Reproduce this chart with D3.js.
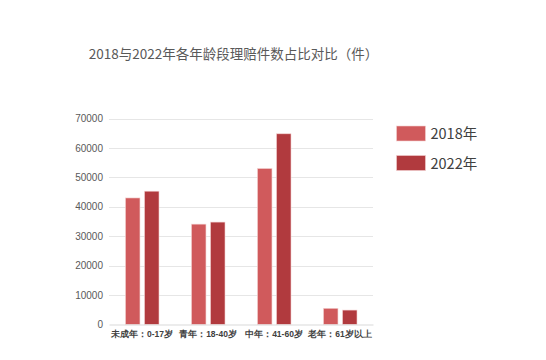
<!DOCTYPE html>
<html><head><meta charset="utf-8">
<script src="https://cdn.jsdelivr.net/npm/d3@7"></script>
<style>body{margin:0;background:#fff;} svg{display:block;font-family:"Noto Sans CJK SC","Liberation Sans",sans-serif;}</style>
</head><body><div id="chart"></div>
<script>
const categories = ["未成年：0-17岁", "青年：18-40岁", "中年：41-60岁", "老年：61岁以上"];
const seriesNames = ["2018年", "2022年"];
const values2018 = [43000, 34100, 53000, 5500];
const values2022 = [45300, 34800, 64800, 4900];
const yTicks = [0, 10000, 20000, 30000, 40000, 50000, 60000, 70000];
const colors = ["#d05a5c", "#b13a3e"];

const W = 546, H = 360;
const svg = d3.select("#chart").append("svg").attr("width", W).attr("height", H);
svg.append("rect").attr("width", W).attr("height", H).attr("fill", "#fff");

svg.append("text").attr("x", 233.5).attr("y", 59).attr("text-anchor", "middle")
  .attr("font-size", 13.5).attr("fill", "#595959").text("2018与2022年各年龄段理赔件数占比对比（件）");

const m = {l: 109, r: 373, t: 118.5, b: 324.5};
const x0 = d3.scaleBand().domain(categories).range([m.l, m.r]).paddingInner(0).paddingOuter(0);
const x1 = d3.scaleBand().domain(seriesNames).range([16.5, 50]).paddingInner(0.24);
const y = d3.scaleLinear().domain([0, 70000]).range([m.b, m.t]);

const grid = svg.append("g");
grid.selectAll("line").data(yTicks.filter(d => d > 0)).join("line")
  .attr("x1", m.l).attr("x2", m.r).attr("y1", d => Math.round(y(d)) + 0.5).attr("y2", d => Math.round(y(d)) + 0.5)
  .attr("stroke", "#e6e6e6").attr("stroke-width", 1);

const yAxis = d3.axisLeft(y).tickValues(yTicks).tickSize(0).tickPadding(6).tickFormat(d3.format("d"));
const ya = svg.append("g").attr("transform", `translate(${m.l},0)`).call(yAxis);
ya.select(".domain").remove();
ya.selectAll("text").attr("font-size", 10).attr("fill", "#595959").attr("font-family", "Liberation Sans, sans-serif");

const data = categories.map((c, i) => ({c, vals: [values2018[i], values2022[i]]}));
const groups = svg.append("g").selectAll("g").data(data).join("g")
  .attr("transform", d => `translate(${x0(d.c)},0)`);
groups.selectAll("rect").data(d => d.vals.map((v, j) => ({v, j}))).join("rect")
  .attr("x", d => x1(seriesNames[d.j])).attr("width", x1.bandwidth())
  .attr("y", d => y(d.v)).attr("height", d => y(0) - y(d.v))
  .attr("fill", d => colors[d.j]).attr("stroke", "#f3d0d0").attr("stroke-width", 0.6);

const xAxis = d3.axisBottom(x0).tickSize(0).tickPadding(6);
const xa = svg.append("g").attr("transform", `translate(0,${m.b})`).call(xAxis);
xa.select(".domain").attr("stroke", "#d9d9d9");
xa.selectAll("text").attr("font-size", 8.5).attr("font-weight", "bold").attr("fill", "#404040");

const legend = svg.append("g");
seriesNames.forEach((s, i) => {
  const g = legend.append("g").attr("transform", `translate(396.5,${126 + i * 29.5})`);
  g.append("rect").attr("width", 29).attr("height", 15).attr("fill", colors[i]).attr("stroke", "#f3d0d0").attr("stroke-width", 0.6);
  g.append("text").attr("x", 34).attr("y", 13).attr("font-size", 14.5).attr("fill", "#404040").text(s);
});
</script></body></html>
